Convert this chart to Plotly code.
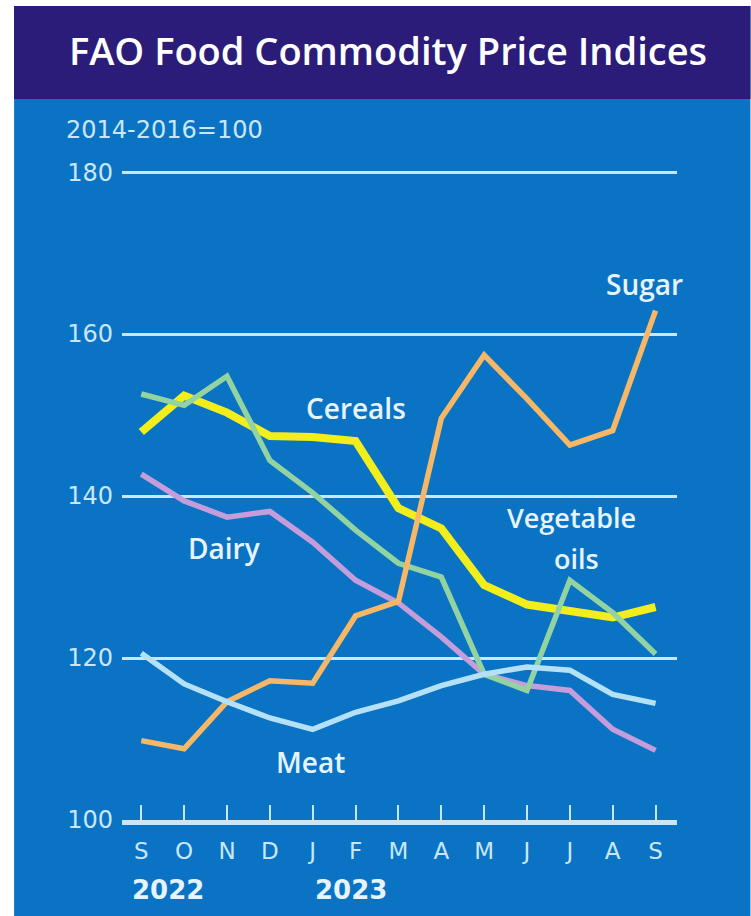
import plotly.graph_objects as go

months = ["S", "O", "N", "D", "J", "F", "M", "A", "M", "J", "J", "A", "S"]
years = ["2022", "2023"]
y_ticks = [100, 120, 140, 160, 180]

cereals = [147.9, 152.4, 150.3, 147.4, 147.3, 146.8, 138.5, 136.0, 129.0, 126.6, 125.8, 125.0, 126.3]
veg_oils = [152.6, 151.2, 154.8, 144.4, 140.4, 135.8, 131.7, 130.0, 118.0, 116.0, 129.6, 125.6, 120.5]
dairy = [142.7, 139.4, 137.4, 138.1, 134.3, 129.6, 126.8, 122.6, 118.0, 116.6, 116.0, 111.2, 108.6]
meat = [120.6, 116.8, 114.6, 112.6, 111.2, 113.3, 114.7, 116.6, 118.0, 118.9, 118.5, 115.5, 114.4]
sugar = [109.8, 108.8, 114.6, 117.2, 116.9, 125.2, 127.0, 149.6, 157.4, 152.0, 146.3, 148.1, 162.9]

x = list(range(len(months)))

BLUE = "#0b73c3"
NAVY = "#2a1c78"
LIGHT = "#c9e7fa"
LABEL = "#e6f4ff"

fig = go.Figure()

series = [
    ("Dairy", dairy, "#c59ddb", 5.5),
    ("Cereals", cereals, "#f2ee1c", 8),
    ("Vegetable oils", veg_oils, "#93d3a2", 5.5),
    ("Sugar", sugar, "#f6b866", 5.5),
    ("Meat", meat, "#b4e1f8", 5.5),
]
for name, vals, color, w in series:
    fig.add_trace(go.Scatter(x=x, y=vals, mode="lines", name=name,
                             line=dict(color=color, width=w),
                             showlegend=False, hoverinfo="skip"))

# pixel helpers for decoration placed in paper coords
L, R, T, B = 122, 73.5, 164, 96
W, H = 751, 916
pw, ph = W - L - R, H - T - B
def px(xp):
    return (xp - L) / pw
def py(yp):
    return (H - B - yp) / ph

shapes = [
    dict(type="rect", xref="paper", yref="paper", x0=px(14), x1=px(751), y0=py(916), y1=py(6),
         fillcolor=BLUE, line=dict(width=0), layer="below"),
    dict(type="rect", xref="paper", yref="paper", x0=px(14), x1=px(751), y0=py(99), y1=py(6),
         fillcolor=NAVY, line=dict(width=0), layer="below"),
]

lab_font = dict(family="Open Sans", size=28, color=LABEL, weight=600)
veg_font = dict(family="Open Sans", size=27, color=LABEL, weight=600)
year_font = dict(family="DejaVu Sans", size=26, color=LABEL, weight="bold")
annotations = [
    dict(text="FAO Food Commodity Price Indices", xref="paper", yref="paper",
         x=px(388), y=py(50), showarrow=False, xanchor="center", yanchor="middle",
         font=dict(family="Open Sans", size=38, color="white", weight=600)),
    dict(text="2014-2016=100", xref="paper", yref="paper", x=px(64), y=py(130),
         showarrow=False, xanchor="left", yanchor="middle",
         font=dict(family="DejaVu Sans", size=24, color=LIGHT)),
    dict(text="Sugar", x=11.74, y=166.2, showarrow=False, font=lab_font),
    dict(text="Cereals", x=5.01, y=150.9, showarrow=False, font=lab_font),
    dict(text="Vegetable", x=10.04, y=134.9, yanchor="bottom", borderpad=0,
         showarrow=False, font=veg_font),
    dict(text="oils", x=10.16, y=134.7, yanchor="top", borderpad=0,
         showarrow=False, font=veg_font),
    dict(text="Dairy", x=1.93, y=133.6, showarrow=False, font=lab_font),
    dict(text="Meat", x=3.94, y=107.2, showarrow=False, font=lab_font),
    dict(text=years[0], x=-0.27, y=py(890), yref="paper", xanchor="left", yanchor="middle",
         showarrow=False, font=year_font),
    dict(text=years[1], x=4.0, y=py(890), yref="paper", xanchor="left", yanchor="middle",
         showarrow=False, font=year_font),
]

fig.update_layout(
    width=W, height=H,
    margin=dict(l=L, r=R, t=T, b=B, pad=0),
    paper_bgcolor="white",
    plot_bgcolor="rgba(0,0,0,0)",
    shapes=shapes,
    annotations=annotations,
    xaxis=dict(range=[-0.45, 12.5], tickvals=x, ticktext=months, showgrid=False,
               zeroline=False, showline=True, linecolor=LIGHT, linewidth=5,
               ticks="inside", ticklen=15, tickwidth=2, tickcolor=LIGHT,
               tickfont=dict(family="DejaVu Sans", size=23, color=LIGHT),
               ticklabelstandoff=6, fixedrange=True),
    yaxis=dict(range=[100, 181], tickvals=y_ticks, showgrid=True, gridcolor=LIGHT,
               gridwidth=3, zeroline=False, showline=False, ticks="",
               tickfont=dict(family="DejaVu Sans", size=24, color=LIGHT),
               ticklabelstandoff=8, fixedrange=True),
)

fig.write_html("out.html", config={"displayModeBar": False},
               post_script="document.body.style.margin='0';")
